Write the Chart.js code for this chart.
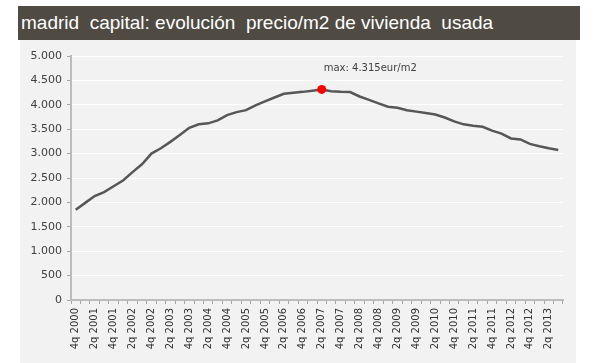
<!DOCTYPE html>
<html>
<head>
<meta charset="utf-8">
<script src="https://cdn.jsdelivr.net/npm/chart.js@4.4.1/dist/chart.umd.min.js"></script>
<style>
    body { margin: 0; background: #ffffff; width: 597px; height: 363px; position: relative; overflow: hidden; }
    .title-bar {
        position: absolute; left: 18px; top: 6px; width: 562px; height: 34px;
        background: #4f4b43; color: #ffffff;
        font-family: "Liberation Sans", Arial, sans-serif; font-size: 19px;
        line-height: 34px; padding-left: 3px; box-sizing: border-box; white-space: pre;
    }
    .panel { position: absolute; left: 20px; top: 40px; width: 556px; height: 323px; background: #f2f2f2; }
    canvas { display: block; }
</style>
</head>
<body>
<div class="title-bar">madrid  capital: evolución  precio/m2 de vivienda  usada</div>
<div class="panel"><canvas id="chart" width="556" height="323"></canvas></div>
<script>
    const quarters = [];
    (function () {
        let q = 4, y = 2000;
        for (let i = 0; i < 52; i++) {
            quarters.push(q + 'q ' + y);
            q += 1;
            if (q > 4) { q = 1; y += 1; }
        }
    })();

    const prices = [
        1850, 1990, 2130, 2210, 2330, 2450, 2620, 2780, 3000, 3110,
        3240, 3380, 3530, 3600, 3620, 3680, 3790, 3850, 3890, 3990,
        4070, 4150, 4225, 4245, 4265, 4290, 4315, 4280, 4265, 4260,
        4170, 4100, 4030, 3960, 3940, 3890, 3860, 3830, 3800, 3740,
        3660, 3600, 3570, 3550, 3470, 3410, 3310, 3290, 3200, 3150,
        3110, 3075
    ];

    const yTicks = [0, 500, 1000, 1500, 2000, 2500, 3000, 3500, 4000, 4500, 5000];
    const maxLabel = 'max: 4.315eur/m2';

    const maxIndex = prices.indexOf(Math.max(...prices));

    function formatThousands(v) {
        return String(v).replace(/\B(?=(\d{3})+(?!\d))/g, '.');
    }

    const maxNote = {
        id: 'maxNote',
        afterDatasetsDraw(chart) {
            const ctx = chart.ctx;
            const x = chart.scales.x.getPixelForValue(maxIndex);
            const y = chart.scales.y.getPixelForValue(prices[maxIndex]);
            ctx.save();
            ctx.font = '10px "DejaVu Sans", Verdana, sans-serif';
            ctx.fillStyle = '#404040';
            ctx.textBaseline = 'middle';
            ctx.fillText(maxLabel, x + 2, y - 21);
            ctx.restore();
        }
    };

    new Chart(document.getElementById('chart').getContext('2d'), {
        type: 'line',
        data: {
            labels: quarters,
            datasets: [{
                data: prices,
                borderColor: '#575757',
                borderWidth: 2.5,
                tension: 0,
                pointRadius: (c) => (c.dataIndex === maxIndex ? 4.5 : 0),
                pointBackgroundColor: '#ff0000',
                pointBorderWidth: 0,
                pointHoverRadius: 0,
            }],
        },
        options: {
            responsive: false,
            animation: false,
            layout: { padding: { left: 0, right: 13, top: 16, bottom: 0 } },
            plugins: { legend: { display: false }, tooltip: { enabled: false } },
            scales: {
                x: {
                    offset: true,
                    afterFit(scale) { scale.height = 63; },
                    grid: { offset: true, drawOnChartArea: false, tickLength: 4, tickColor: '#a6a6a6' },
                    border: { color: '#bcbcbc', width: 2 },
                    ticks: {
                        autoSkip: false,
                        maxRotation: 90,
                        minRotation: 90,
                        padding: 4,
                        color: '#333333',
                        font: { family: '"DejaVu Sans", Verdana, sans-serif', size: 10 },
                        callback(value, index) {
                            return index % 2 === 0 ? quarters[index] : '';
                        },
                    },
                },
                y: {
                    min: 0,
                    max: 5000,
                    afterFit(scale) { scale.width = 51; },
                    afterBuildTicks(scale) { scale.ticks = yTicks.map((v) => ({ value: v })); },
                    grid: { color: '#ffffff', lineWidth: 1, tickLength: 4, tickColor: '#a6a6a6' },
                    border: { color: '#bcbcbc', width: 2 },
                    ticks: {
                        padding: 5,
                        color: '#404040',
                        font: { family: '"DejaVu Sans", Verdana, sans-serif', size: 11 },
                        callback(value) { return formatThousands(value); },
                    },
                },
            },
        },
        plugins: [maxNote],
    });
</script>
</body>
</html>
